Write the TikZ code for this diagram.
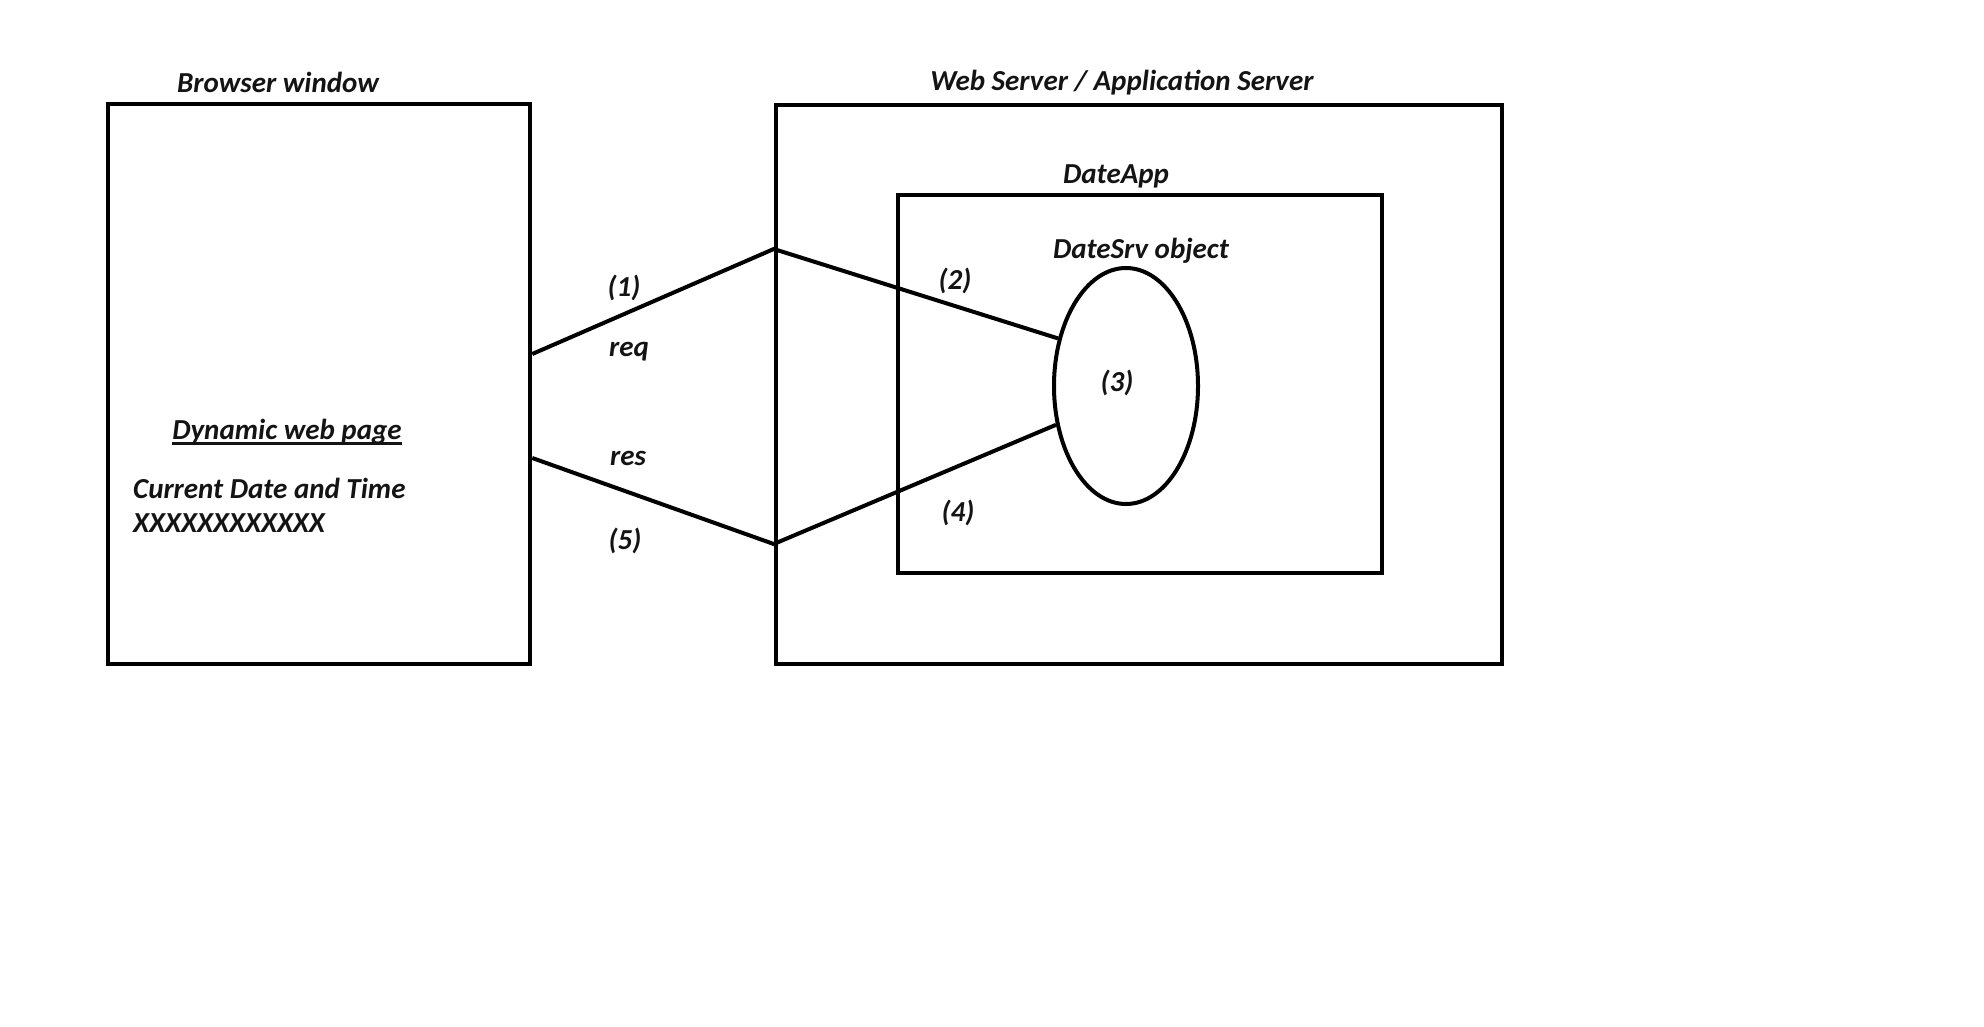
\documentclass[tikz,border=0pt]{standalone}
\usepackage{fontspec}
\setmainfont{Carlito}
\usetikzlibrary{shapes.geometric}
% thick underline drawn under the text box
\newcommand\thickul[1]{\setbox0\hbox{#1}\rlap{\rule[-5pt]{\wd0}{2.5pt}}\box0}
\begin{document}
\begin{tikzpicture}[x=1pt,y=-1pt,
  box/.style={draw,line width=4.5pt,inner sep=0pt,rectangle},
  wire/.style={line width=4pt,line join=miter},
  lbl/.style={font=\fontsize{29}{33}\selectfont\bfseries\itshape,inner sep=0pt,text=black!92}]
  \useasboundingbox (0,0) rectangle (1984,1026);
  % containers
  \node[box,minimum width=422pt,minimum height=560pt] (browser) at (319,384) {};
  \node[box,minimum width=726pt,minimum height=559pt] (server) at (1139,384.5) {};
  \node[box,minimum width=484pt,minimum height=378pt] (app) at (1140,384) {};
  \node[draw,ellipse,line width=4pt,minimum width=144pt,minimum height=236pt,inner sep=0pt] (obj) at (1126,386) {};
  % titles
  \node[lbl] (tbrowser) at (278,82) {Browser window};
  \node[lbl] (tserver) at (1122,83) {Web Server / Application Server};
  \node[lbl] (tapp) at (1116,176) {DateApp};
  \node[lbl] (tobj) at (1141,251) {DateSrv object};
  \node[lbl] (t3) at (1117,383) {(3)};
  % page content
  \node[lbl] (tpage) at (287,432) {\thickul{Dynamic web page}};
  \node[lbl,anchor=west] (tdate) at (133,488) {Current Date and Time};
  \node[lbl,anchor=west] (txx) at (133,523) {XXXXXXXXXXXX};
  % request / response path
  \coordinate (reqOut) at (browser.east |- 0,354);
  \coordinate (reqIn) at (server.west |- 0,249);
  \coordinate (resIn) at (browser.east |- 0,458);
  \coordinate (resOut) at (server.west |- 0,544);
  \draw[wire] (reqOut) -- (reqIn) -- (obj.145.4);
  \draw[wire] (resIn) -- (resOut) -- (obj.209.8);
  % step labels
  \node[lbl] (t1) at (624,288) {(1)};
  \node[lbl] (treq) at (629,352) {req};
  \node[lbl] (tres) at (628,458) {res};
  \node[lbl] (t5) at (625,541) {(5)};
  \node[lbl] (t2) at (955,281) {(2)};
  \node[lbl] (t4) at (958,513) {(4)};
\end{tikzpicture}
\end{document}
